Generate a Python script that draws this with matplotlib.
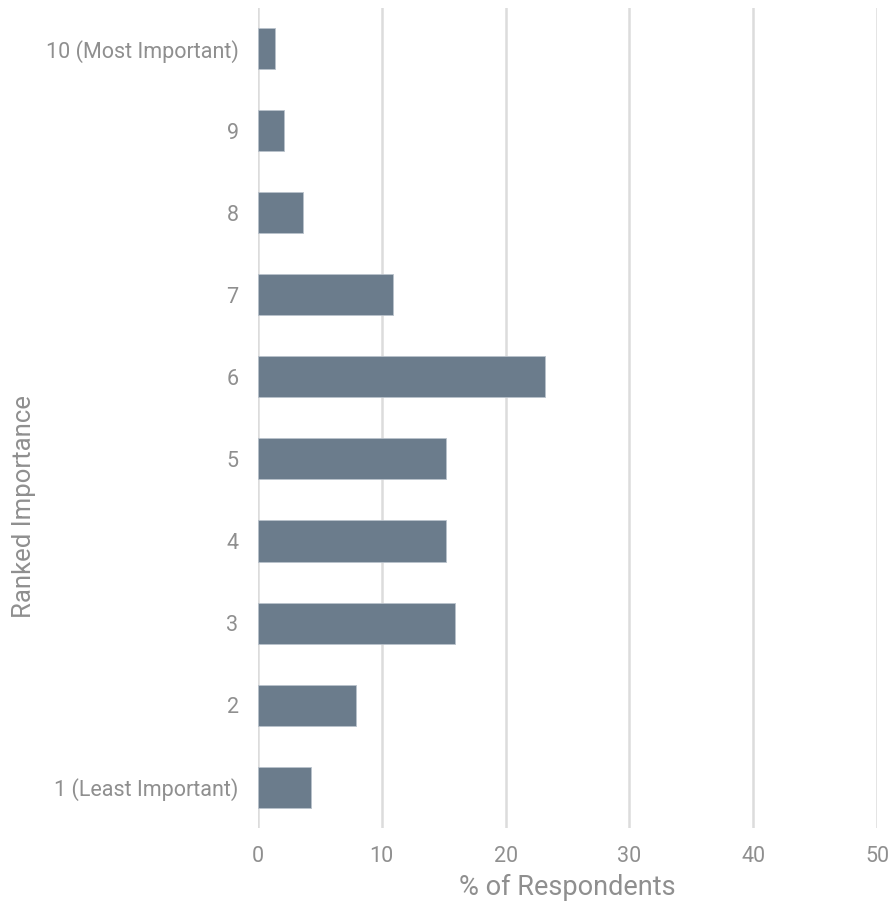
import matplotlib
matplotlib.use("Agg")
import matplotlib.pyplot as plt

categories = ["1 (Least Important)", "2", "3", "4", "5", "6", "7", "8", "9", "10 (Most Important)"]
percent = [4.3, 7.9, 15.9, 15.2, 15.2, 23.2, 10.9, 3.6, 2.1, 1.4]
x_ticks = [0, 10, 20, 30, 40, 50]

plt.rcParams["font.family"] = ["Roboto", "DejaVu Sans"]

text_gray = "#8f8f8f"
bar_color = "#6b7c8c"
grid_gray = "#dcdcdc"

fig = plt.figure(figsize=(8.94, 9.08), dpi=100)
ax = fig.add_axes([0.2886, 0.0881, 0.6924, 0.9031])

ypos = list(range(len(categories)))
ax.barh(ypos, percent, height=0.5, color=bar_color, edgecolor="#b9c2cb", linewidth=0.6, zorder=3)

ax.set_xlim(0, 50)
ax.set_ylim(-0.5, len(categories) - 0.5)
ax.set_xticks(x_ticks)
ax.set_yticks(ypos)
ax.set_yticklabels(categories)

ax.grid(axis="x", color=grid_gray, linewidth=1.8, zorder=0)
ax.grid(axis="y", visible=False)
for s in ax.spines.values():
    s.set_visible(False)

ax.tick_params(axis="both", length=0, colors=text_gray, labelsize=15.5)
ax.tick_params(axis="y", pad=14)
ax.tick_params(axis="x", pad=13)

ax.set_xlabel("% of Respondents", fontsize=19.5, color=text_gray)
ax.set_ylabel("Ranked Importance", fontsize=18.5, color=text_gray)
# label positions in axes coordinates
ax.xaxis.set_label_coords(0.5, -0.056)
ax.yaxis.set_label_coords(-0.359, (828 - 507) / 820)

fig.savefig("out.png", dpi=100)
